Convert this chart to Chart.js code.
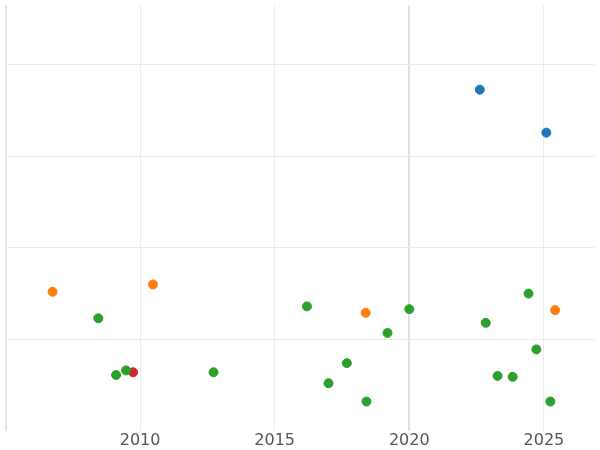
<!DOCTYPE html>
<html><head><meta charset="utf-8">
<script src="https://cdn.jsdelivr.net/npm/chart.js@4"></script>
<style>body{margin:0;background:#fff}#wrap{width:600px;height:450px}</style>
</head><body><div id="wrap"><canvas id="c"></canvas></div>
<script>
var blueX = [2022.62, 2025.09];
var blueY = [3.73, 3.26];
var orangeX = [2006.75, 2010.48, 2018.38, 2025.42];
var orangeY = [1.52, 1.60, 1.29, 1.32];
var redX = [2009.74];
var redY = [0.64];
var greenX = [2008.45, 2009.11, 2009.48, 2012.73, 2016.2, 2017.0, 2017.68, 2018.41, 2019.19, 2020.0, 2022.84, 2023.28, 2023.84, 2024.43, 2024.72, 2025.24];
var greenY = [1.23, 0.61, 0.66, 0.64, 1.36, 0.52, 0.74, 0.32, 1.07, 1.33, 1.18, 0.60, 0.59, 1.50, 0.89, 0.32];
var xTicks = [2010, 2015, 2020, 2025];

function pts(xs, ys) { return xs.map(function (x, i) { return {x: x, y: ys[i]}; }); }
function ds(xs, ys, col) {
  return {data: pts(xs, ys), backgroundColor: col, borderColor: col, pointRadius: 4.5, pointHoverRadius: 4.5};
}

new Chart(document.getElementById('c'), {
  type: 'scatter',
  data: {
    datasets: [
      ds(greenX, greenY, '#2ca02c'),
      ds(orangeX, orangeY, '#ff7f0e'),
      ds(redX, redY, '#d62728'),
      ds(blueX, blueY, '#1f77b4')
    ]
  },
  options: {
    responsive: true, maintainAspectRatio: false, animation: false,
    layout: {padding: {left: 6, top: -5, right: -6, bottom: 0}},
    plugins: {legend: {display: false}, tooltip: {enabled: false}},
    scales: {
      x: {
        min: 2005.02, max: 2026.88,
        afterBuildTicks: function (s) { s.ticks = xTicks.map(function (v) { return {value: v}; }); },
        grid: {
          color: function (c) { return c.tick && c.tick.value === 2020 ? '#e0e0e0' : '#ebebeb'; },
          lineWidth: function (c) { return c.tick && c.tick.value === 2020 ? 2 : 1; },
          drawTicks: false
        },
        border: {display: false},
        ticks: {
          color: '#555', font: {family: 'DejaVu Sans', size: 16}, padding: 0,
          callback: function (v) { return String(v); }
        }
      },
      y: {
        min: 0, max: 4.65,
        afterBuildTicks: function (s) { s.ticks = [1, 2, 3, 4].map(function (v) { return {value: v}; }); },
        grid: {color: '#ebebeb', drawTicks: false},
        border: {display: true, color: '#e6e6e6', width: 2},
        ticks: {display: false}
      }
    }
  }
});
</script></body></html>
